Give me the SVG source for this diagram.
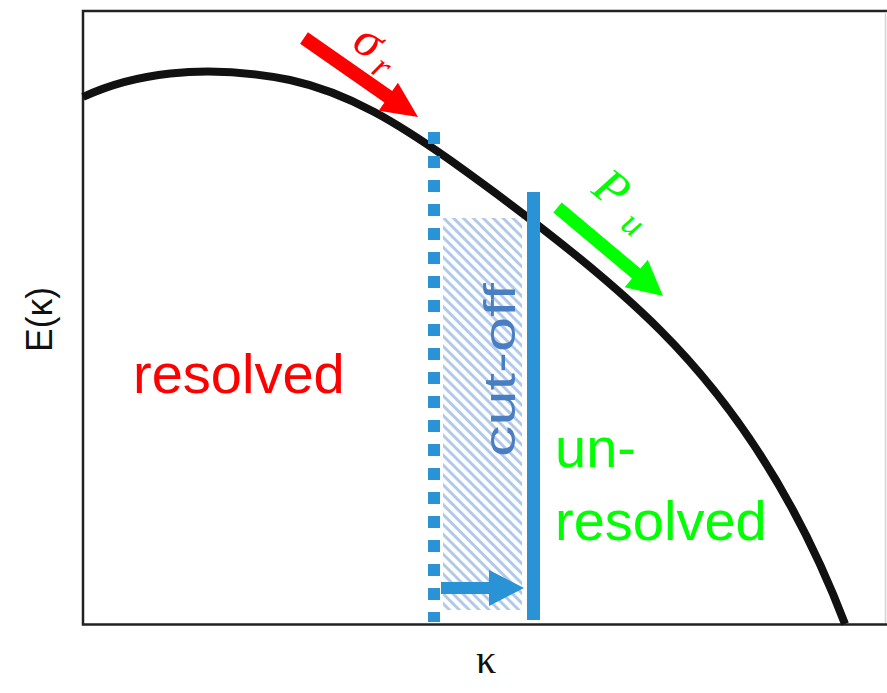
<svg xmlns="http://www.w3.org/2000/svg" width="887" height="693" viewBox="0 0 887 693">
<style>
.lbl{font-family:"Liberation Sans",Arial,sans-serif;font-size:56px}
.math{font-family:"Liberation Serif","Times New Roman",serif;font-style:italic}
.blue{fill:#2a93d5}
.frame{stroke:#222;fill:none}
</style>
<defs>
<pattern id="hatch" patternUnits="userSpaceOnUse" width="7" height="7" patternTransform="rotate(45)">
<rect width="7" height="7" fill="#ffffff"/>
<line x1="0" y1="1.5" x2="7" y2="1.5" stroke="#adc7e8" stroke-width="2.8"/>
</pattern>
</defs>
<rect width="887" height="693" fill="#ffffff"/>
<g id="axes">
<path class="frame" d="M887,11 H83 V624.5 H887" stroke-width="2.5"/>
<line x1="885.5" y1="12" x2="885.5" y2="623" stroke="#d4d4d4" stroke-width="1.5"/>
<text x="0" y="0" transform="translate(52,352) rotate(-90)" font-family="'Liberation Sans',Arial,sans-serif" font-size="36" fill="#111" textLength="65" lengthAdjust="spacingAndGlyphs">E(κ)</text>
<text x="476" y="673" font-family="'Liberation Serif','Times New Roman',serif" font-size="40" fill="#111">κ</text>
</g>
<g id="hatched-band">
<rect x="443" y="218" width="79" height="392" fill="url(#hatch)"/>
</g>
<g id="spectrum">
<path d="M83,97 C130,75 200,62 290,80 C350,93 400,125 450,160 C520,210 600,270 660,330 C720,390 790,480 845,624" fill="none" stroke="#111" stroke-width="8"/>
</g>
<g id="filter-lines">
<line x1="434" y1="132" x2="434" y2="622" stroke="#2a93d5" stroke-width="12" stroke-dasharray="12 12"/>
<line x1="533.5" y1="192" x2="533.5" y2="620" stroke="#2a93d5" stroke-width="13"/>
</g>
<g id="connectors">
<polygon id="arrow-sigma" fill="#ff0000" points="307.9,32.2 392.2,90.9 397.9,82.7 418,117 378.7,110.7 384.4,102.5 300.1,43.8"/>
<polygon id="arrow-P" fill="#00ff00" points="561.7,202.5 640.4,268.5 647.8,259.7 663,296 624.6,287.3 632.0,278.5 553.3,212.5"/>
<polygon id="arrow-cutoff" class="blue" points="441,582 489,582 489,570 524,588 489,606 489,594 441,594"/>
</g>
<g id="label-sigma">
<text class="math" transform="translate(350,47) rotate(34)" font-size="50" fill="#ff0000">σ<tspan font-size="36" dx="6" dy="10">r</tspan></text>
</g>
<g id="label-P">
<text class="math" transform="translate(590,192) rotate(38)" font-size="50" fill="#00ff00">P<tspan font-size="36" dx="14" dy="10">u</tspan></text>
</g>
<g id="label-resolved">
<text class="lbl" x="133" y="393" fill="#ff0000">resolved</text>
</g>
<g id="label-cutoff">
<text x="0" y="0" transform="translate(515,457) rotate(-90)" font-family="'Liberation Sans',Arial,sans-serif" font-size="44" fill="#4a7ec2" textLength="174" lengthAdjust="spacingAndGlyphs">cut-off</text>
</g>
<g id="label-unresolved">
<text class="lbl" x="555" y="467" fill="#00ff00">un-</text>
<text class="lbl" x="555" y="540" fill="#00ff00">resolved</text>
</g>
</svg>
